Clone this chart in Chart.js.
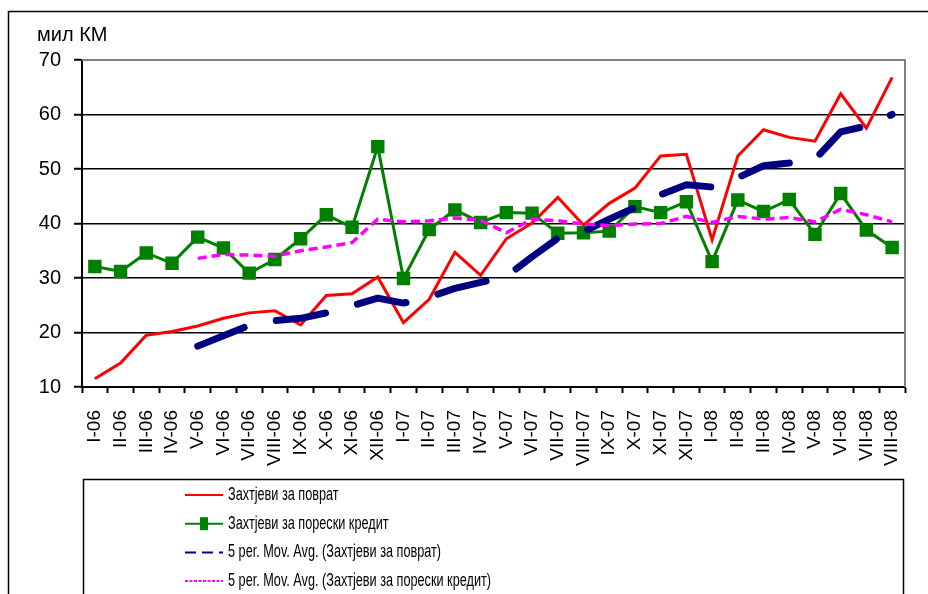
<!DOCTYPE html>
<html>
<head>
<meta charset="utf-8">
<script src="https://cdn.jsdelivr.net/npm/chart.js@4/dist/chart.umd.min.js"></script>
<style>
  html, body { margin: 0; padding: 0; background: #fff; }
  #wrap { width: 928px; height: 594px; position: relative; }
</style>
</head>
<body>
<div id="wrap"><canvas id="chart" width="928" height="594"></canvas></div>
<script>
// месеци (римски бројеви)
const months = ['I-06','II-06','III-06','IV-06','V-06','VI-06','VII-06','VIII-06','IX-06','X-06','XI-06','XII-06',
                'I-07','II-07','III-07','IV-07','V-07','VI-07','VII-07','VIII-07','IX-07','X-07','XI-07','XII-07',
                'I-08','II-08','III-08','IV-08','V-08','VI-08','VII-08','VIII-08'];

// Захтјеви за поврат (мил КМ)
const povrat = [11.5, 14.4, 19.5, 20.2, 21.2, 22.6, 23.6, 24.0, 21.4, 26.8, 27.1, 30.2,
                21.8, 26.1, 34.7, 30.5, 37.2, 40.1, 44.8, 39.7, 43.7, 46.5, 52.4, 52.7,
                37.0, 52.4, 57.2, 55.8, 55.1, 63.8, 57.5, 66.8];

// Захтјеви за порески кредит (мил КМ)
const kredit = [32.1, 31.2, 34.6, 32.7, 37.5, 35.5, 30.9, 33.4, 37.2, 41.6, 39.3, 54.1,
                29.9, 38.9, 42.5, 40.2, 42.0, 41.9, 38.2, 38.3, 38.6, 43.1, 42.0, 44.0,
                33.0, 44.3, 42.2, 44.4, 38.0, 45.5, 38.8, 35.6];

// 5 per. Mov. Avg. - очитано са графика
const povratAvg = [null, null, null, null, 17.5, 19.4, 21.3, 22.2, 22.6, 23.6, 24.9, 26.3,
                   25.4, 26.5, 28.1, 29.2, 30.3, 33.9, 37.3, 38.5, 40.8, 42.9, 45.3, 47.1,
                   46.7, 48.4, 50.6, 51.1, 51.8, 56.8, 57.9, 60.0];

const kreditAvg = [null, null, null, null, 33.6, 34.3, 34.2, 34.0, 35.0, 35.7, 36.5, 40.8,
                   40.3, 40.5, 41.0, 40.6, 38.3, 40.8, 40.5, 39.9, 39.6, 39.9, 40.0, 41.3,
                   40.2, 41.3, 40.8, 41.1, 40.3, 42.6, 41.6, 40.3];

const yMin = 10, yMax = 70, yStep = 10;
const unitLabel = 'мил КМ';

const legendItems = [
    { text: 'Захтјеви за поврат', color: '#ff0000', dash: [], marker: false },
    { text: 'Захтјеви за порески кредит', color: '#008000', dash: [], marker: true },
    { text: '5 per. Mov. Avg. (Захтјеви за поврат)', color: '#000080', dash: [11, 6], marker: false },
    { text: '5 per. Mov. Avg. (Захтјеви за порески кредит)', color: '#ff00ff', dash: [3, 1.5], marker: false }
];

const FONT = "'Liberation Sans', Arial, sans-serif";

// оквири, наслов јединице и легенда
const decorPlugin = {
    id: 'decor',
    afterDraw(chart) {
        const ctx = chart.ctx;
        const area = chart.chartArea;
        ctx.save();

        // спољни оквир
        ctx.strokeStyle = '#000';
        ctx.lineWidth = 1.5;
        ctx.strokeRect(8.5, 11.5, 1000, 1000);

        // сиви оквир површине графика (горе и десно)
        ctx.strokeStyle = '#808080';
        ctx.lineWidth = 2;
        ctx.beginPath();
        ctx.moveTo(area.left, area.top);
        ctx.lineTo(area.right, area.top);
        ctx.lineTo(area.right, area.bottom);
        ctx.stroke();

        // јединица
        ctx.fillStyle = '#000';
        ctx.font = '20px ' + FONT;
        ctx.textAlign = 'left';
        ctx.textBaseline = 'middle';
        ctx.fillText(unitLabel, 37, 35);

        // легенда
        ctx.strokeStyle = '#000';
        ctx.lineWidth = 1.5;
        ctx.strokeRect(83.5, 479.5, 820, 200);

        // збијени текст као у оригиналу (најдужи ред ~263px)
        ctx.font = '18px ' + FONT;
        const squeeze = 263 / ctx.measureText(legendItems[3].text).width;
        legendItems.forEach((item, i) => {
            const y = 495 + i * 28.7;
            ctx.strokeStyle = item.color;
            ctx.lineWidth = 2;
            ctx.setLineDash(item.dash);
            ctx.beginPath();
            ctx.moveTo(185, y);
            ctx.lineTo(223, y);
            ctx.stroke();
            ctx.setLineDash([]);
            if (item.marker) {
                ctx.fillStyle = item.color;
                ctx.fillRect(200, y - 6.5, 8, 13);
            }
            ctx.save();
            ctx.translate(228, y);
            ctx.scale(squeeze, 1);
            ctx.fillStyle = '#000';
            ctx.fillText(item.text, 0, 0);
            ctx.restore();
        });

        ctx.restore();
    }
};

new Chart(document.getElementById('chart'), {
    type: 'line',
    data: {
        labels: months,
        datasets: [
            {
                label: 'Захтјеви за поврат',
                data: povrat,
                borderColor: '#ff0000',
                borderWidth: 3,
                pointRadius: 0,
                tension: 0,
                order: 4
            },
            {
                label: 'Захтјеви за порески кредит',
                data: kredit,
                borderColor: '#008000',
                backgroundColor: '#008000',
                borderWidth: 3,
                pointStyle: 'rect',
                pointRadius: 9.5,
                pointBorderWidth: 0,
                tension: 0,
                order: 3
            },
            {
                label: '5 per. Mov. Avg. (Захтјеви за поврат)',
                data: povratAvg,
                borderColor: '#000080',
                borderWidth: 7,
                borderDash: [50, 33],
                borderCapStyle: 'round',
                borderJoinStyle: 'round',
                pointRadius: 0,
                tension: 0,
                order: 2
            },
            {
                label: '5 per. Mov. Avg. (Захтјеви за порески кредит)',
                data: kreditAvg,
                borderColor: '#ff00ff',
                borderWidth: 3.5,
                borderDash: [9, 5],
                pointRadius: 0,
                tension: 0,
                order: 1
            }
        ]
    },
    options: {
        responsive: false,
        animation: false,
        layout: {
            padding: { left: 0, top: 60, right: 23, bottom: 0 }
        },
        plugins: {
            legend: { display: false },
            tooltip: { enabled: false }
        },
        scales: {
            x: {
                offset: true,
                afterFit(scale) { scale.height = 207; scale.paddingRight = 0; scale.paddingLeft = 0; },
                grid: {
                    offset: true,
                    drawOnChartArea: false,
                    drawTicks: true,
                    tickLength: 6,
                    tickWidth: 2,
                    tickColor: '#000'
                },
                border: { color: '#000', width: 2 },
                ticks: {
                    minRotation: 90,
                    maxRotation: 90,
                    autoSkip: false,
                    padding: 17,
                    color: '#000',
                    font: { size: 19, family: FONT }
                }
            },
            y: {
                min: yMin,
                max: yMax,
                afterFit(scale) { scale.width = 82; },
                grid: {
                    color: (c) => c.tick && c.tick.value === yMax ? 'rgba(0,0,0,0)' : '#000',
                    lineWidth: 1.5,
                    tickLength: 8,
                    tickColor: '#000',
                    tickWidth: 2
                },
                border: { color: '#000', width: 2 },
                ticks: {
                    stepSize: yStep,
                    padding: 13,
                    color: '#000',
                    font: { size: 20, family: FONT }
                }
            }
        }
    },
    plugins: [decorPlugin]
});
</script>
</body>
</html>
